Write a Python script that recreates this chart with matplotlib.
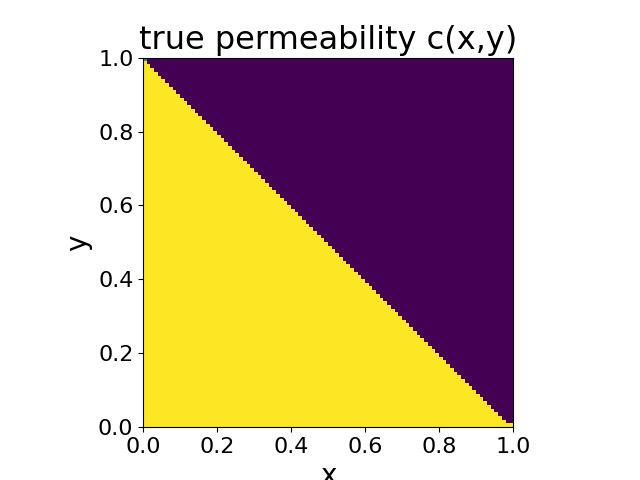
import numpy as np
import matplotlib
matplotlib.use("Agg")
import matplotlib.pyplot as plt

n = 100
threshold = 99          # cell (i, j) is high permeability when i + j < threshold
high_value = 1.0
low_value = 0.0
corner_value = 0.5      # top-left cell shows an intermediate value
extra_high_cells = [(99, 0)]  # (col, row) cells that are high on the boundary
ticks = [0.0, 0.2, 0.4, 0.6, 0.8, 1.0]

ii, jj = np.meshgrid(np.arange(n), np.arange(n))  # jj = row (y), ii = col (x)
c = np.where(ii + jj < threshold, high_value, low_value)
for (ci, rj) in extra_high_cells:
    c[rj, ci] = high_value
c[n - 1, 0] = corner_value

fig = plt.figure(figsize=(6.4, 4.8), dpi=100)
ax = fig.add_subplot(111)
ax.imshow(c, origin="lower", extent=[0, 1, 0, 1], cmap="viridis", vmin=0, vmax=1,
          interpolation="nearest")
ax.set_title("true permeability c(x,y)", fontsize=23)
ax.set_xlabel("x", fontsize=20)
ax.set_ylabel("y", fontsize=20)
ax.set_xticks(ticks)
ax.set_yticks(ticks)
ax.tick_params(labelsize=16)
fig.savefig("out.png", dpi=100)
